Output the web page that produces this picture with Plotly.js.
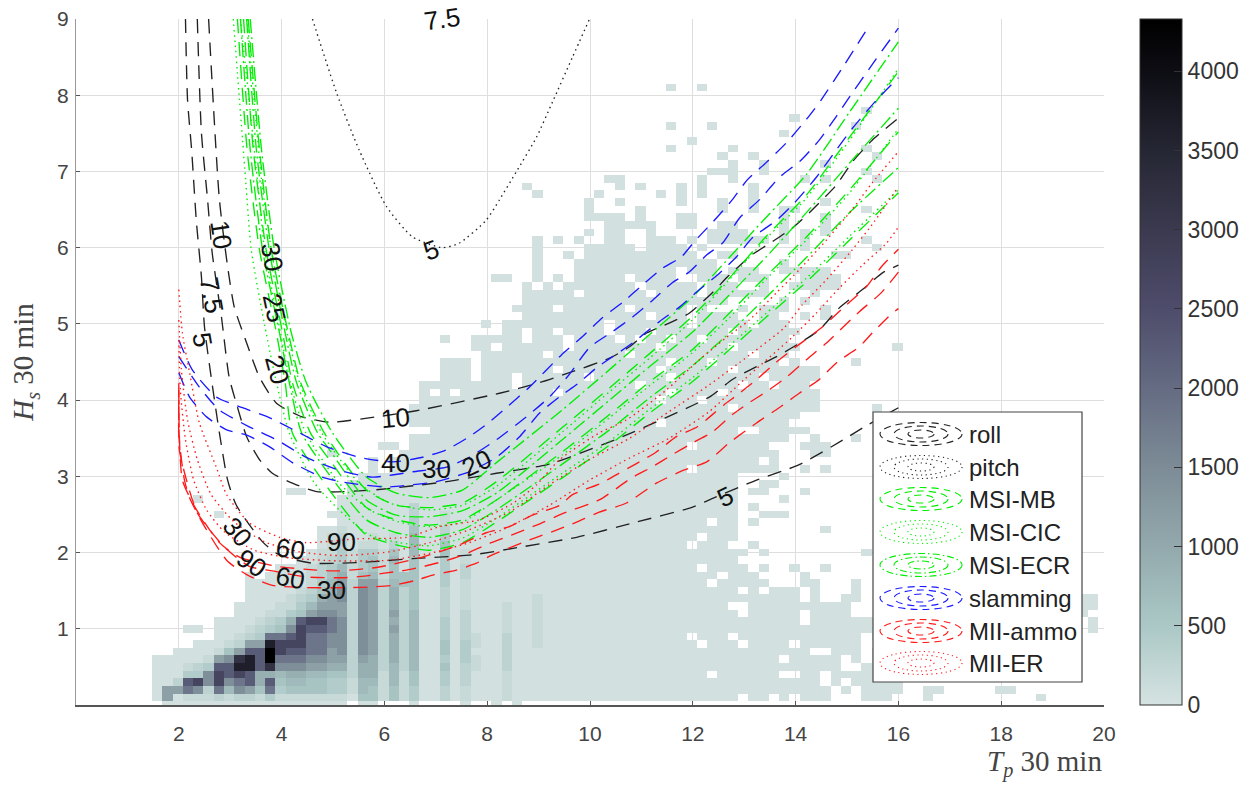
<!DOCTYPE html>
<html><head><meta charset="utf-8">
<script src="https://cdn.plot.ly/plotly-3.0.1.min.js"></script>
<style>html,body{margin:0;padding:0;background:#fff}#chart{width:1256px;height:785px}</style>
</head><body><div id="chart"></div>
<script>
// ---------- occupancy grid ----------
// levels: letters stand for estimated counts per cell, '.' = empty
const levelValues = {a:30,b:170,c:300,d:430,e:570,f:720,g:900,h:1150,i:1450,j:1850,k:2250,l:2700,m:3200,n:3650,o:4330};
// each string = one Hs bin (index = Hs*10), groups of ten Tp bins. A = ten 'a', _ = ten blanks
const heatRows = [
"........aa A aaaaaa.aa. ..a....a.. a.a.......",
".......aha bbbcbccbdb bbbbbbaeeb ebdaacabaa abaaaaaaaa A aaaa.aa.a. aaa...aaa. ..a....... ...a......",
".......ahh jicjfihejd eeeeddbfeb ebdaacabaa abaaaaaaaa A A aaa.a.aaaa ..aa.....a a.........",
".......aac klilijkgke ffeeddbffb fbeaadacaa abaaaaaaaa A A aa.a.aaaaa",
".......aaa ddilklkggf ggffeecggb fbeaadacaa abaaaaaaaa A a.aaaaaa.. aa.aaaaaa.",
".......aaa bcdkknnkmi iihhggcggc fcfaaeacba acaaaaaaaa A A aaaa..aaa.",
".......aaa aabhimnkoj jjiihhchgc gcfaadadba acaaaaaaaa A aaaaaaaa.a aaaa.a.aaa",
".........a aaabehkkol kkjjhicihc gcfaaeadaa acaaaaaaaa A A a..aaa.aaa",
"_ .aaabchhnl lljjiicihc gcfaaeadba acaabaaaaa A .aaa.aaaa. aaaaaa....",
"_ ...aabcdjj kljjiicihc gcfaadacba acaabaaaaa aaaaaaaaa. aaa.aaaaaa aaaaaa.aaa ........a.",
"_ aa.aaabcde ilkkjicihc hcfaadacaa abaabaaaaa A A A _ ........a.",
"_ ...aaaabcd gklljicihc gcfaadacaa abaabaaaaa A A .aaaaaaa.. _ ........a.",
"_ .....aaabb dehiihcihc hcfaacacaa abaabaaaaa A aaaa.aaaaa .aaaa..... _ .......a..",
"_ .....aaaab bdfhhhcihc gceaacabaa abaabaaaaa A aaa..aaaaa aaaaa..... _ .......aa.",
"_ ......aaaa bcdghicihc gceaacabaa aaaabaaaaa A A .a..aa.... _ .......aa.",
"_ ......aaaa abcegicihc gceaacabaa A A aaaa.a.aaa .a...a....",
"_ ......aaaa aabdfhchhc feeaadabaa A A a.aaaaa... aa...a....",
"_ ......a.aa aabcegbefb eeeaadacaa A A aa.aaa.... a.........",
"_ .........a aabcdfbdeb eaeaadacaa A A .aaaa.a..a ..a.......",
"_ _ .aabcdbdeb faeaadabaa A A aaaa......",
"_ _ ..abbdbddb eafaaeabaa A A aaaaa.a... ......a...",
"_ _ ...abcabba cafaaeaaaa A aaaaaaaaa. aaa..a....",
"_ _ ...abcaaba bafaadaaaa A A .aaa......",
"_ _ ...aabaaaa aaeaacaaaa A A aaaa...... ..a.......",
"_ _ .....aaaaa aadaabaaaa A A a.aa.a....",
"_ ...a...... ....aaaaaa aacaabaaaa A A aaaa..aaa.",
"_ _ .....aaaaa aacaaaaaaa A A aaaa.a....",
"_ .a........ .....aaaaa A A A aaaa....a.",
"_ _ aa....aaaa A A A aaaa.aa... a.........",
"_ _ ......aaaa A A A aaaa..aa..",
"_ _ .......aaa A A A aaaa....a.",
"_ _ ........a. A A aaaaaaaaa. aaaaaaaa.. a.a.......",
"_ _ ........a. A A A aaaaaa.a..",
"_ _ ....a..... .aaaaaaaaa A A aaaaaaaa.. .aa.......",
"_ _ .........a a.aaaaaaaa A aaaaaaaaa. aaaaaaa... aaa.......",
"_ _ _ ..aaaaaaaa A A aaaaaaaaa. .a...a....",
"_ _ _ ....aaaaaa A A aaaa..aaaa a.........",
"_ _ _ ..aaaaaaaa A aaaaaa.aaa aaaaaaaaa.",
"_ _ _ ..aaaaaaaa A A A",
"_ _ _ ..aaaaaaaa A A aaa.aaaaaa aa.....a..",
"_ _ _ ...aaaaaaa A aaaaaa.aaa .aaaaaaaaa aa........",
"_ _ _ ...a.a.aaa aaaaaa.aaa aaaaaaa.aa aa.aaaaaaa aa........",
"_ _ _ ...aaaaaaa aa.aaaaaaa aaaa.aaaaa aaaa.aa.aa a.........",
"_ _ _ .....aaa.a aa.aaaaaa. aaaaaaa.aa aaaaaa.aaa aa........",
"_ _ _ .....aaa.a aaaaaa.aaa aaaaaa.aaa aaa.aaaaaa aa........",
"_ _ _ .....aaa.a A aaaaaaa.aa a.aaaaaa.a .....a....",
"_ _ _ .........a aaaaa.aaaa aaa.aaaaaa aaaaa.aaa.",
"_ _ _ ........aa .aaaaaa.aa aaaaaa.aaa aaa.aaaaaa .........a",
"_ _ _ .....a..aa aaa.aaa.aa aa.a.aa.aa .aaaaaaaa.",
"_ _ _ .......... .aa.aa.aaa a.aaa.aaaa aaa.aaaaaa",
"_ _ _ .........a .aaaaaaaaa a.aaaaaaa. aaaaa.aaa.",
"_ _ _ .......... ...aaaaaaa aaaaa.aaa. aaaa..aa.. a.a.......",
"_ _ _ _ ..aaaa.aaa aaa.aaaaa. a...a.aaa. ..a.......",
"_ _ _ _ ...aaaaaaa A aaa.....a. a.........",
"_ _ _ _ ...aaaaa.a aaaaa.aaaa .aaaaaa... .a........",
"_ _ _ _ ...a.a.aaa aaaa.aaaaa .aaa..a..a aaaa......"
];
// isolated cells above the dense part: Hs bin and its Tp bins
const sparseBins = [81,78,77,76,75,74,73,72,71,70,69,68,67,66,65,64,63,62,61,60,59,58,57,56];
const sparseCols = [
[57,60],[76],[69],[57,61,75],[68],[59],[57,63,76],[62,65,77],[63,66,72],[61,62,63,66,76],
[51,52,60,63,70,72,77],[43,52,54,58,60,65],[44,50,56,58,60,65],[49,52,58,62,65,72],
[49,54,62,65,68,69,76],[49,50,51,52,54,58,59,68,72],[51,52,53,54,55,58,59,62,63,68,72],
[49,51,52,55,61,62,63,64,68,70,72],[44,46,48,51,52,55,56,57,59,61,62,63,64,65,66,68,70,76],
[44,49,50,51,52,53,55,56,57,58,60,70,77],[44,47,49,50,51,52,53,54,55,56,57,58,59,62,63,73,74],
[44,48,49,50,51,52,53,54,55,56,57,58,59,60,61,68],
[44,48,49,50,51,52,53,54,55,56,57,59,60,61,63,64,65,68,69,70,71,72],
[40,41,44,46,48,49,50,51,52,54,55,56,57,60,61,62,64,65,66,70,71,72,73]];
const tpBinFirst = 0.18, tpBinStep = 0.2, hsBinFirst = 0, hsBinStep = 0.1;

// ---------- contour lines (Tp, Hs) ----------
const roll5T=[2.13,2.17,2.25,2.34,2.44,2.50,2.63,2.79,2.95,3.12,3.63,3.90,4.29,4.60,5.12,5.77,6.55,7.71,8.63,9.74,10.84,11.97,12.42,13.24,14.06,14.93,15.34,16];
const roll5H=[9,7.94,7.28,6.36,5.62,4.96,4.30,3.57,2.95,2.62,2.14,1.99,1.90,1.86,1.86,1.88,1.92,1.97,2.07,2.20,2.39,2.59,2.72,2.95,3.15,3.48,3.65,3.90];
const roll75T=[2.36,2.44,2.56,2.65,2.83,2.98,3.14,3.32,3.57,3.82,4.21,4.68,5.77,7.21,7.65,8.18,9.15,9.60,10.63,12.32,12.77,13.24,13.63,14.01,14.46,14.85,15.30,15.69,16];
const roll75H=[9,7.51,6.63,5.93,5.09,4.30,3.91,3.52,3.22,3.04,2.91,2.80,2.82,2.93,2.98,3.04,3.15,3.25,3.52,4.04,4.27,4.44,4.57,4.72,4.92,5.21,5.45,5.67,5.77];
const roll10T=[2.58,2.79,2.95,3.08,3.32,3.57,3.90,4.40,4.93,5.84,6.62,8.24,9.02,9.60,10.38,10.77,11.10,11.54,11.93,12.38,12.71,13.16,13.55,13.94,14.33,14.79,15.11,15.49,16];
const roll10H=[9,6.63,5.75,5.22,4.75,4.30,3.96,3.78,3.71,3.78,3.86,4.09,4.23,4.36,4.55,4.70,4.88,5.01,5.14,5.41,5.64,5.91,6.08,6.26,6.50,6.82,7.13,7.41,7.70];
const pitch5T=[4.60,5.07,5.51,6.04,6.55,7.13,7.46,7.98,8.24,8.57,8.96,9.27,9.66,9.99];
const pitch5H=[9,8.03,7.28,6.54,6.14,6.0,6.06,6.36,6.63,7.0,7.45,7.91,8.50,9];
const slam40T=[2,2.26,2.73,3.24,3.76,4.35,4.87,5.51,6.16,6.74,7.21,7.65,8.04,8.37,8.82,9.44,9.85,10.24,10.63,11.02,11.41,11.78,12.03,12.38,12.77,13.06,13.45,13.84,14.23,14.50,14.95,15.44];
const slam40H=[4.79,4.40,4.04,3.90,3.77,3.57,3.39,3.25,3.19,3.25,3.35,3.52,3.71,3.90,4.17,4.59,4.83,5.08,5.28,5.51,5.73,5.88,6.08,6.33,6.63,6.89,7.13,7.39,7.70,7.94,8.40,8.92];
const slam30T=[2,2.40,2.79,3.37,3.90,4.48,5.12,5.77,6.55,7.21,7.65,8.18,8.76,9.21,9.60,9.99,10.44,10.83,11.22,11.60,11.93,12.28,12.58,12.91,13.30,13.68,14.11,14.46,14.79,15.01,15.53,16];
const slam30H=[4.57,4.17,3.87,3.65,3.48,3.25,3.08,2.99,3.06,3.12,3.25,3.48,3.78,4.04,4.34,4.69,4.90,5.09,5.31,5.54,5.68,5.91,6.06,6.39,6.63,6.92,7.15,7.41,7.72,7.94,8.44,8.88];
const slam20T=[2,2.21,2.54,2.93,3.32,3.76,4.21,4.79,5.32,6.04,6.55,7.01,7.65,8.18,8.63,9.02,9.40,9.79,10.12,10.44,10.83,11.35,11.74,12.13,12.48,12.85,13.16,13.63,13.98,14.40,14.79,15.11,15.58,16];
const slam20H=[4.36,4.04,3.78,3.61,3.54,3.39,3.18,2.99,2.91,2.86,2.89,2.93,3.06,3.25,3.52,3.83,4.04,4.23,4.42,4.57,4.75,5.03,5.22,5.45,5.64,5.88,6.13,6.36,6.59,6.92,7.28,7.57,7.94,8.23];
const ammo30T=[2,2.01,2.11,2.21,2.46,2.93,3.32,3.82,4.48,5.26,5.77,6.16,6.58,6.97,7.40,7.79,8.10,8.96,9.37,9.74,10.18,10.71,11.29,11.82,12.27,12.71,13.24,13.68,14.07,14.46,14.81,15.24,15.49,15.88,16];
const ammo30H=[4.22,3.48,2.95,2.72,2.39,1.90,1.71,1.57,1.54,1.54,1.55,1.57,1.63,1.71,1.77,1.86,1.97,2.20,2.30,2.40,2.53,2.65,2.91,3.08,3.19,3.44,3.70,3.90,4.09,4.27,4.50,4.70,4.88,5.14,5.20];
const ammo60T=[2,2.01,2.15,2.36,2.89,3.37,3.90,4.48,5.18,5.61,6.0,6.43,6.78,7.23,7.61,8.08,8.47,8.96,9.50,10.18,10.81,11.20,11.59,12.0,12.38,12.77,13.06,13.43,13.82,14.21,14.60,15.24,15.67,16];
const ammo60H=[4.0,3.35,2.95,2.52,2.07,1.82,1.75,1.68,1.67,1.69,1.73,1.77,1.82,1.90,1.99,2.13,2.23,2.36,2.52,2.69,2.98,3.12,3.28,3.44,3.58,3.81,3.95,4.11,4.30,4.53,4.75,5.16,5.41,5.68];
const ammo90T=[2,2.01,2.07,2.31,2.79,3.18,3.90,4.68,5.12,5.51,5.90,6.68,7.46,7.98,8.43,8.88,9.41,9.66,10.22,10.51,10.86,11.29,11.68,12.09,12.26,12.61,12.87,13.24,13.63,14.01,14.52,14.99,15.38,15.67,16];
const ammo90H=[4.13,3.54,2.95,2.60,2.13,1.94,1.82,1.77,1.76,1.78,1.81,1.93,2.10,2.26,2.34,2.49,2.62,2.76,2.91,3.02,3.15,3.32,3.52,3.65,3.74,3.94,4.07,4.27,4.50,4.70,4.96,5.25,5.49,5.75,5.98];
const er30T=[2,2.03,2.13,2.29,2.54,2.89,3.47,4.15,5.12,6.10,6.88,7.65,8.43,9.21,9.99,10.77,11.54,12.32,13.0,13.94,14.40,14.85,15.30,15.77,16];
const er30H=[4.79,4.13,3.48,2.95,2.56,2.27,2.03,1.93,1.89,1.90,1.99,2.13,2.34,2.62,2.95,3.24,3.50,3.85,4.27,4.83,5.14,5.47,5.77,6.06,6.27];
const er60T=[2,2.05,2.17,2.36,2.63,3.08,3.67,4.35,5.12,6.10,6.88,7.65,8.43,9.21,9.99,10.77,11.54,12.32,13.10,13.78,14.13,14.6,15.1,15.53,16];
const er60H=[5.05,4.40,3.74,3.22,2.76,2.40,2.14,2.01,1.96,2.01,2.13,2.30,2.53,2.89,3.22,3.50,3.85,4.20,4.59,4.95,5.25,5.58,5.97,6.34,6.80];
const er90T=[2,2.07,2.21,2.40,2.73,2.93,3.37,3.96,4.48,5.46,6.43,7.07,7.85,8.53,8.96,9.41,10.18,10.71,11.48,12.13,12.65,13.1,13.63,14.07,14.6,15.1,15.49,16];
const er90H=[5.45,4.88,4.36,3.70,3.12,2.76,2.39,2.20,2.13,2.18,2.20,2.34,2.43,2.66,2.89,3.22,3.57,3.74,4.13,4.53,4.82,5.05,5.41,5.71,6.10,6.50,6.85,7.26];
const msiRightT=[6.23,6.87,7.52,8.18,9.46,10.38,11.16,11.99,12.71,13.43,14.21,15.05,16];
const ecr30T=[3.39,3.61,3.86,4.19,4.48,4.99,5.65,...msiRightT];
const ecr30H=[9,7.28,5.97,4.88,4.23,3.57,2.99,2.78,2.72,2.82,3.18,3.87,4.40,4.86,5.35,5.87,6.40,6.96,7.78,8.70];
const mb30T=[3.35,3.57,3.80,4.13,4.37,4.83,5.65,...msiRightT];
const mb30H=[9,7.28,5.97,4.88,4.23,3.57,2.82,2.62,2.59,2.65,2.93,3.64,4.16,4.61,5.10,5.60,6.15,6.69,7.45,8.31];
const ecr25T=[3.32,3.51,3.76,4.07,4.29,4.70,4.93,5.65,...msiRightT];
const ecr25H=[9,7.28,5.97,4.88,4.23,3.57,3.35,2.69,2.49,2.47,2.55,2.78,3.48,4.0,4.44,4.89,5.38,5.88,6.46,7.11,7.83];
const mb25T=[3.26,3.45,3.70,4.02,4.21,4.56,4.93,5.65,...msiRightT];
const mb25H=[9,7.28,5.97,4.88,4.23,3.57,3.22,2.59,2.43,2.36,2.43,2.69,3.32,3.81,4.24,4.66,5.14,5.63,6.14,6.76,7.52];
const ecr20T=[3.20,3.39,3.63,3.96,4.15,4.39,4.93,5.65,...msiRightT];
const ecr20H=[9,7.28,5.97,4.88,4.23,3.57,3.02,2.43,2.26,2.20,2.30,2.56,3.16,3.61,4.03,4.45,4.88,5.35,5.87,6.46,7.05];
const mb20T=[3.14,3.33,3.57,3.90,4.07,4.21,4.93,5.65,...msiRightT];
const mb20H=[9,7.28,5.97,4.88,4.23,3.57,2.82,2.23,2.10,2.03,2.13,2.40,2.98,3.41,3.83,4.24,4.66,5.09,5.55,6.10,6.72];
const cic20T=[3.06,3.30,3.41,3.70,3.90,4.15,4.64,5.12,5.71,6.29,6.87,7.52,8.18,9.46,10.38,11.16,11.99,12.71,13.43,14.21,15.05,16];
const cic20H=[9,6.89,5.97,4.88,4.23,3.57,2.91,2.56,2.23,2.13,2.09,2.19,2.45,3.04,3.46,3.88,4.29,4.71,5.14,5.60,6.15,6.76];
const cic25T=[3.20,3.53,3.67,3.98,4.17,4.47,5.12,5.71,6.29,6.87,7.52,8.18,9.46,10.38,11.16,11.99,12.71,13.43,14.21,15.05,16];
const cic25H=[9,6.89,5.97,4.88,4.23,3.57,2.91,2.56,2.40,2.34,2.40,2.69,3.28,3.77,4.19,4.62,5.08,5.59,6.10,6.72,7.56];
const cic30T=[3.33,3.61,3.80,4.11,4.35,4.78,5.51,6.10,6.87,7.52,8.18,9.46,10.38,11.16,11.99,12.71,13.43,14.21,15.05,16];
const cic30H=[9,6.89,5.97,4.88,4.23,3.57,2.91,2.65,2.56,2.62,2.87,3.58,4.11,4.55,5.05,5.58,6.12,6.65,7.41,8.35];

// contour labels: text, Tp, Hs, rotation
const labelText=["10","7.5","5","10","5","40","30","20","30","25","20","5","7.5","30","60","90","90","60","30"];
const labelT=[2.83,2.64,2.46,6.21,12.62,6.22,7.01,7.80,3.82,3.86,3.92,6.91,7.12,3.14,4.17,5.16,3.41,4.17,4.97];
const labelH=[6.17,5.38,4.79,3.77,2.73,3.17,3.10,3.18,5.88,5.21,4.40,5.97,9.0,2.27,2.05,2.14,1.86,1.67,1.51];
const labelRot=[82,80,80,-5,-25,0,0,-25,80,78,75,-20,-8,50,8,0,35,10,0];

const legendNames=["roll","pitch","MSI-MB","MSI-CIC","MSI-ECR","slamming","MII-ammo","MII-ER"];
const legendColors=["#222222","#222222","#00ee00","#00ee00","#00ee00","#1a1aff","#ff1a1a","#ff1a1a"];
const DASH="14px,9px", DOT="1.5px,3.8px", DASHDOT="14px,4px,2px,4px";
const legendDash=["7px,5px","1.2px,3.5px","7px,5px","1.2px,3.5px","7px,3px,1.5px,3px","7px,5px","7px,5px","1.2px,3.5px"];
const legendRowY=[434,467,499,532,565,598,631,663];

const xTicks=[2,4,6,8,10,12,14,16,18,20];
const yTicks=[1,2,3,4,5,6,7,8,9];
const cbTicks=[0,500,1000,1500,2000,2500,3000,3500,4000];

// ---------- build ----------
const NX=100, NY=90;
const z=[]; for(let j=0;j<NY;j++){z.push(new Array(NX).fill(null));}
heatRows.forEach((s,j)=>{
  const c=s.split(" ").map(g=>g==="A"?"aaaaaaaaaa":g==="_"?"..........":g).join("");
  for(let i=0;i<c.length&&i<NX;i++){ if(c[i]!==".") z[j][i]=levelValues[c[i]]; }
});
sparseBins.forEach((j,k)=>sparseCols[k].forEach(i=>{z[j][i]=levelValues.a;}));

const scale=[[0,"#d5e3e2"],[0.115,"#abc8c6"],[0.23,"#93a9ad"],[0.345,"#7d8c97"],[0.46,"#656c83"],[0.577,"#4e4c6b"],[0.69,"#3b3a50"],[0.81,"#252633"],[0.92,"#0e0e15"],[1,"#000000"]];

function line(x,y,color,dash){return {type:"scatter",mode:"lines",x:x,y:y,hoverinfo:"skip",showlegend:false,
  line:{color:color,dash:dash,width:1.35,shape:"spline",smoothing:0.6}};}
const BK=legendColors[0],GR=legendColors[2],BL=legendColors[5],RD=legendColors[6];
const traces=[
 {type:"heatmap",z:z,x0:tpBinFirst,dx:tpBinStep,y0:hsBinFirst,dy:hsBinStep,zmin:0,zmax:4330,colorscale:scale,hoverinfo:"skip",
  colorbar:{x:1.0350,xanchor:"left",y:0,yanchor:"bottom",len:1,lenmode:"fraction",thickness:42,thicknessmode:"pixels",xpad:0,ypad:0,
    tickvals:cbTicks,ticks:"inside",ticklen:8,tickcolor:"#333",tickwidth:1,outlinecolor:"#333",outlinewidth:1,
    tickfont:{family:"Liberation Sans",size:23,color:"#333"}}},
 line(roll5T,roll5H,BK,DASH),line(roll75T,roll75H,BK,DASH),line(roll10T,roll10H,BK,DASH),
 line(pitch5T,pitch5H,BK,DOT),
 line(mb20T,mb20H,GR,DASH),line(mb25T,mb25H,GR,DASH),line(mb30T,mb30H,GR,DASH),
 line(cic20T,cic20H,GR,DOT),line(cic25T,cic25H,GR,DOT),line(cic30T,cic30H,GR,DOT),
 line(ecr20T,ecr20H,GR,DASHDOT),line(ecr25T,ecr25H,GR,DASHDOT),line(ecr30T,ecr30H,GR,DASHDOT),
 line(slam20T,slam20H,BL,DASH),line(slam30T,slam30H,BL,DASH),line(slam40T,slam40H,BL,DASH),
 line(ammo30T,ammo30H,RD,DASH),line(ammo60T,ammo60H,RD,DASH),line(ammo90T,ammo90H,RD,DASH),
 line(er30T,er30H,RD,DOT),line(er60T,er60H,RD,DOT),line(er90T,er90H,RD,DOT)
];

// paper-coordinate helpers for the hand-drawn legend panel
const L=76,R=1104,T=19,B=705;
const px=x=>(x-L)/(R-L), py=y=>(B-y)/(B-T);
const shapes=[{type:"rect",xref:"paper",yref:"paper",x0:px(873),x1:px(1082),y0:py(412),y1:py(682),fillcolor:"#fff",line:{color:"#444",width:1.2},layer:"above"}];
const annotations=[];
legendNames.forEach((n,k)=>{
  [[41,11.5],[27,8],[13,4]].forEach(e=>{
    shapes.push({type:"circle",xref:"paper",yref:"paper",x0:px(921-e[0]),x1:px(921+e[0]),y0:py(legendRowY[k]+e[1]),y1:py(legendRowY[k]-e[1]),
      line:{color:legendColors[k],width:1.1,dash:legendDash[k]},layer:"above"});
  });
  annotations.push({xref:"paper",yref:"paper",x:px(967),y:py(legendRowY[k]),text:n,showarrow:false,xanchor:"left",yanchor:"middle",
    font:{family:"Liberation Sans",size:24,color:"#222"}});
});
labelText.forEach((t,k)=>annotations.push({x:labelT[k],y:labelH[k],text:t,textangle:labelRot[k],showarrow:false,
  font:{family:"Liberation Sans",size:26,color:"#111"},xanchor:"center",yanchor:"middle"}));
annotations.push({xref:"paper",yref:"paper",x:1.0,y:0,yshift:-38,xanchor:"right",yanchor:"top",showarrow:false,
  text:"<i>T<sub>p</sub></i> 30 min",font:{family:"Liberation Serif",size:29,color:"#444"}});

const layout={
 width:1256,height:785,paper_bgcolor:"#fff",plot_bgcolor:"#fff",showlegend:false,
 margin:{l:L,r:1256-R,t:T,b:785-B,pad:0,autoexpand:false},
 xaxis:{range:[0,20],tickvals:xTicks,ticktext:xTicks.map(String),ticks:"inside",ticklen:4,tickcolor:"#555",
   showline:true,linecolor:"#555",linewidth:1.5,gridcolor:"#dedede",gridwidth:1,zeroline:false,layer:"below traces",ticklabelstandoff:9,
   tickfont:{family:"Liberation Sans",size:21,color:"#444"}},
 yaxis:{range:[0,9],tickvals:yTicks,ticktext:yTicks.map(String),ticks:"inside",ticklen:4,tickcolor:"#555",
   showline:true,linecolor:"#999",linewidth:1,gridcolor:"#dedede",gridwidth:1,zeroline:false,layer:"below traces",ticklabelstandoff:2,
   tickfont:{family:"Liberation Sans",size:21,color:"#444"},
   title:{text:"<i>H<sub>s</sub></i> 30 min",font:{family:"Liberation Serif",size:29,color:"#444"},standoff:14}},
 shapes:shapes,annotations:annotations
};
Plotly.newPlot("chart",traces,layout,{displayModeBar:false,staticPlot:true});
</script></body></html>
